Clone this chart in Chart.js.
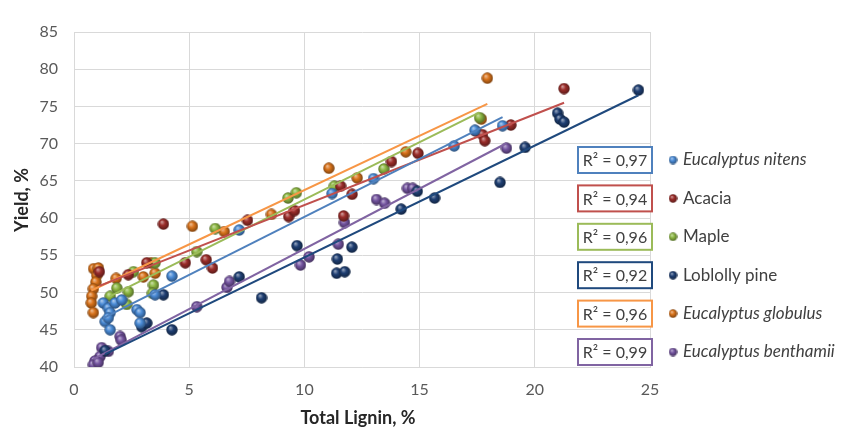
<!DOCTYPE html>
<html lang="en">
<head>
<meta charset="UTF-8">
<title>Yield vs Total Lignin</title>
<script src="https://cdn.jsdelivr.net/npm/chart.js@4"></script>
<style>
  html, body { margin: 0; padding: 0; background: #fff; }
  #wrap { width: 849px; height: 441px; position: relative; }
</style>
</head>
<body>
<div id="wrap"><canvas id="chart" width="849" height="441"></canvas></div>
<script>
  // Data (Total Lignin %, Yield %)
  const seriesNames = ['Eucalyptus nitens', 'Acacia', 'Maple', 'Loblolly pine', 'Eucalyptus globulus', 'Eucalyptus benthamii'];
  const italicNames = [true, false, false, false, true, true];
  const r2Labels = ['0,97', '0,94', '0,96', '0,92', '0,96', '0,99'];
  const xTicks = [0, 5, 10, 15, 20, 25];
  const yTicks = [40, 45, 50, 55, 60, 65, 70, 75, 80, 85];

  const nitensX = [1.27, 1.49, 1.78, 2.07, 1.57, 1.35, 1.49, 1.57, 2.73, 2.87, 2.87, 4.25, 3.52, 7.17, 11.2, 13.0, 16.5, 17.4, 18.6];
  const nitensY = [48.6, 47.9, 48.6, 49.0, 47.3, 46.1, 46.6, 45.0, 47.7, 47.3, 45.9, 52.2, 49.7, 58.4, 63.3, 65.3, 69.7, 71.8, 72.4];

  const acaciaX = [1.1, 2.36, 3.16, 3.88, 4.83, 5.74, 6.01, 7.53, 9.32, 9.57, 11.57, 12.07, 11.7, 13.78, 14.93, 17.43, 17.73, 17.83, 18.96, 21.27];
  const acaciaY = [52.8, 52.4, 54.0, 59.2, 54.0, 54.4, 53.3, 59.7, 60.2, 61.0, 64.3, 63.2, 60.3, 67.6, 68.7, 71.7, 71.2, 70.4, 72.5, 77.4];

  const mapleX = [1.57, 1.86, 2.36, 2.29, 3.45, 3.4, 2.58, 3.52, 5.33, 6.13, 9.29, 9.65, 11.3, 13.45, 17.6];
  const mapleY = [49.5, 50.6, 50.1, 48.4, 51.0, 49.9, 52.8, 54.0, 55.5, 58.6, 62.7, 63.4, 64.3, 66.6, 73.5];

  const loblollyX = [1.35, 2.94, 3.16, 4.25, 3.88, 7.17, 8.14, 9.68, 11.43, 12.06, 11.4, 11.75, 14.2, 14.9, 15.65, 18.49, 19.58, 20.99, 21.09, 21.27, 24.5];
  const loblollyY = [42.2, 45.4, 45.9, 45.0, 49.7, 52.1, 49.3, 56.3, 54.5, 56.1, 52.6, 52.8, 61.2, 63.6, 62.7, 64.8, 69.5, 74.1, 73.3, 72.9, 77.2];

  const globulusX = [0.85, 1.06, 0.99, 0.95, 0.84, 0.77, 0.75, 0.84, 1.83, 3.01, 3.35, 3.52, 5.14, 6.52, 8.57, 11.06, 12.29, 14.4, 17.68, 17.94];
  const globulusY = [53.2, 53.3, 52.3, 51.4, 50.5, 49.5, 48.6, 47.3, 51.9, 52.1, 54.0, 52.6, 58.9, 58.2, 60.5, 66.7, 65.4, 68.9, 73.3, 78.8];

  const benthamiiX = [1.2, 1.49, 1.13, 0.91, 0.84, 1.05, 2.0, 2.05, 5.33, 6.64, 6.75, 9.83, 10.2, 11.47, 11.74, 13.13, 13.48, 14.47, 14.7, 18.77];
  const benthamiiY = [42.6, 42.1, 41.4, 40.8, 40.3, 40.6, 44.1, 43.6, 48.1, 50.7, 51.5, 53.7, 54.8, 56.5, 59.4, 62.5, 62.0, 64.0, 64.0, 69.4];

  const allX = [nitensX, acaciaX, mapleX, loblollyX, globulusX, benthamiiX];
  const allY = [nitensY, acaciaY, mapleY, loblollyY, globulusY, benthamiiY];

  const markerColors = ['#4a8bd6', '#9b2d2a', '#8db843', '#1f3f73', '#d9731b', '#7454a0'];
  const lineColors = ['#4f81bd', '#c0504d', '#9bbb59', '#1f497d', '#f79646', '#8064a2'];
  const FONT = 'Lato, "DejaVu Sans", sans-serif';

  // shade a hex colour: amt > 0 lighter, < 0 darker
  function shade(hex, amt) {
    const n = parseInt(hex.slice(1), 16);
    let r = n >> 16, g = (n >> 8) & 255, b = n & 255;
    const f = v => Math.round(amt > 0 ? v + (255 - v) * amt : v * (1 + amt));
    return `rgb(${f(r)},${f(g)},${f(b)})`;
  }

  // little glossy ball used as point style
  function sphere(color, d) {
    const cv = document.createElement('canvas');
    cv.width = d; cv.height = d;
    const c = cv.getContext('2d');
    const r = d / 2;
    const g = c.createRadialGradient(r * 0.7, r * 0.6, 0, r, r, r);
    g.addColorStop(0, shade(color, 0.6));
    g.addColorStop(0.45, color);
    g.addColorStop(1, shade(color, -0.45));
    c.fillStyle = g;
    c.beginPath();
    c.arc(r, r, r - 0.3, 0, Math.PI * 2);
    c.fill();
    return cv;
  }

  // least squares trend line over a series' own x range
  function trend(xs, ys) {
    const n = xs.length;
    const mx = xs.reduce((a, b) => a + b, 0) / n;
    const my = ys.reduce((a, b) => a + b, 0) / n;
    let sxy = 0, sxx = 0;
    for (let i = 0; i < n; i++) {
      sxy += (xs[i] - mx) * (ys[i] - my);
      sxx += (xs[i] - mx) * (xs[i] - mx);
    }
    const b = sxy / sxx, a = my - b * mx;
    const x0 = Math.min(...xs), x1 = Math.max(...xs);
    return [{ x: x0, y: a + b * x0 }, { x: x1, y: a + b * x1 }];
  }

  const pointImgs = markerColors.map(c => sphere(c, 12));
  const legendImgs = markerColors.map(c => sphere(c, 9));

  const datasets = [];
  seriesNames.forEach((name, i) => {
    datasets.push({
      type: 'line',
      label: name + ' trend',
      data: trend(allX[i], allY[i]),
      borderColor: lineColors[i],
      borderWidth: 2,
      pointRadius: 0,
      fill: false,
      order: 0
    });
    datasets.push({
      label: name,
      data: allX[i].map((x, k) => ({ x: x, y: allY[i][k] })),
      pointStyle: pointImgs[i],
      pointRadius: 6,
      order: 1
    });
  });

  const sideLegend = {
    id: 'sideLegend',
    afterDraw(chart) {
      const c = chart.ctx;
      c.save();
      // axis titles
      c.fillStyle = '#262626';
      c.font = 'bold 18px ' + FONT;
      c.textAlign = 'center';
      c.textBaseline = 'middle';
      c.fillText('Total Lignin, %', 358, 418);
      c.save();
      c.translate(22, 200);
      c.rotate(-Math.PI / 2);
      c.fillText('Yield, %', 0, 0);
      c.restore();

      seriesNames.forEach((name, i) => {
        const y = 160 + i * 38.4;
        c.fillStyle = '#fff';
        c.fillRect(578, y - 13, 74, 26);
        c.strokeStyle = lineColors[i];
        c.lineWidth = 2;
        c.strokeRect(578, y - 13, 74, 26);
        c.fillStyle = '#404040';
        c.font = '16px ' + FONT;
        c.textAlign = 'center';
        c.fillText('R² = ' + r2Labels[i], 615, y + 1);
        c.drawImage(legendImgs[i], 673 - 4.5, y - 4.5);
        c.textAlign = 'left';
        c.font = (italicNames[i] ? 'italic ' : '') + '17px ' + FONT;
        c.fillText(name, 683, y);
      });
      c.restore();
    }
  };

  new Chart(document.getElementById('chart'), {
    type: 'scatter',
    data: { datasets: datasets },
    options: {
      responsive: false,
      animation: false,
      events: [],
      layout: { padding: { top: 32, right: 199, left: 0, bottom: 0 } },
      plugins: { legend: { display: false }, tooltip: { enabled: false } },
      scales: {
        x: {
          type: 'linear',
          min: 0, max: 25,
          afterBuildTicks: s => { s.ticks = xTicks.map(v => ({ value: v })); },
          afterFit: s => { s.height = 74; },
          grid: { color: '#d9d9d9', drawTicks: false },
          border: { color: '#d9d9d9' },
          ticks: { padding: 13, color: '#595959', font: { family: FONT, size: 16 } }
        },
        y: {
          min: 40, max: 85,
          afterBuildTicks: s => { s.ticks = yTicks.map(v => ({ value: v })); },
          afterFit: s => { s.width = 74; },
          grid: { color: '#d9d9d9', drawTicks: false },
          border: { color: '#d9d9d9' },
          ticks: { padding: 16, color: '#595959', font: { family: FONT, size: 16 } }
        }
      }
    },
    plugins: [sideLegend]
  });
</script>
</body>
</html>
